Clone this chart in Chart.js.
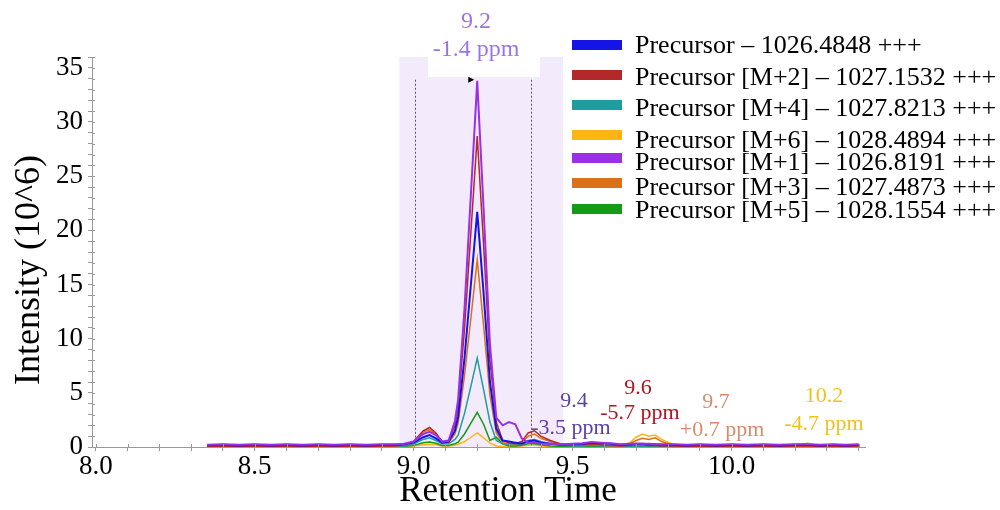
<!DOCTYPE html>
<html>
<head>
<meta charset="utf-8">
<script src="https://cdn.jsdelivr.net/npm/chart.js@4.4.0/dist/chart.umd.min.js"></script>
<style>
  html, body { margin: 0; padding: 0; background: #fff; }
  #wrap { width: 1000px; height: 510px; position: relative; }
</style>
</head>
<body>
<div id="wrap"><canvas id="chart"></canvas></div>
<script>
// retention time (min)
const retentionTimes = [
  8.35, 8.40, 8.45, 8.50, 8.55, 8.60, 8.65, 8.70, 8.75, 8.80, 8.85, 8.90,
  8.94, 8.97, 9.00, 9.03, 9.05, 9.07, 9.09, 9.11, 9.13, 9.14,
  9.16, 9.18, 9.20, 9.22, 9.24, 9.26, 9.28, 9.30, 9.32, 9.34,
  9.36, 9.38, 9.40, 9.43, 9.46, 9.50, 9.53, 9.56, 9.59, 9.62,
  9.65, 9.68, 9.70, 9.72, 9.74, 9.76, 9.78, 9.82, 9.86, 9.90,
  9.95, 10.00, 10.05, 10.10, 10.15, 10.20, 10.24, 10.28, 10.32, 10.36, 10.40
];

// intensity (10^6), one list per isotope trace
const precursorM0 = [
  0.15, 0.2, 0.15, 0.2, 0.15, 0.2, 0.15, 0.2, 0.15, 0.2, 0.15, 0.2,
  0.2, 0.25, 0.4, 0.9, 1.1, 0.8, 0.4, 0.5, 1.5, 2.8,
  8.2, 15.0, 21.7, 14.2, 6.0, 1.7, 0.6, 0.5, 0.4, 0.3,
  0.5, 0.6, 0.4, 0.3, 0.2, 0.25, 0.3, 0.4, 0.35, 0.3,
  0.2, 0.25, 0.3, 0.3, 0.25, 0.25, 0.2, 0.2, 0.15, 0.2,
  0.15, 0.2, 0.15, 0.2, 0.15, 0.2, 0.2, 0.15, 0.2, 0.15, 0.2
];
const precursorM2 = [
  0.05, 0.1, 0.05, 0.1, 0.05, 0.1, 0.05, 0.1, 0.05, 0.1, 0.05, 0.1,
  0.1, 0.2, 0.5, 1.5, 1.8, 1.3, 0.5, 0.5, 2.0, 3.7,
  10.9, 19.8, 28.7, 18.7, 8.0, 2.3, 0.6, 0.4, 0.3, 0.5,
  1.3, 1.5, 1.0, 0.6, 0.3, 0.2, 0.2, 0.25, 0.2, 0.15,
  0.1, 0.15, 0.2, 0.2, 0.15, 0.15, 0.1, 0.1, 0.05, 0.1,
  0.05, 0.1, 0.05, 0.1, 0.05, 0.1, 0.1, 0.05, 0.1, 0.05, 0.1
];
const precursorM4 = [
  0.05, 0.08, 0.05, 0.08, 0.05, 0.08, 0.05, 0.08, 0.05, 0.08, 0.05, 0.08,
  0.05, 0.1, 0.3, 0.7, 0.85, 0.6, 0.3, 0.3, 0.7, 1.1,
  3.1, 5.6, 8.2, 5.3, 2.3, 0.6, 0.3, 0.2, 0.2, 0.3,
  0.6, 0.7, 0.5, 0.3, 0.2, 0.1, 0.1, 0.15, 0.1, 0.1,
  0.05, 0.1, 0.1, 0.1, 0.1, 0.1, 0.05, 0.05, 0.05, 0.05,
  0.05, 0.05, 0.05, 0.05, 0.05, 0.05, 0.05, 0.05, 0.05, 0.05, 0.05
];
const precursorM6 = [
  0.03, 0.03, 0.03, 0.03, 0.03, 0.03, 0.03, 0.03, 0.03, 0.03, 0.03, 0.03,
  0.02, 0.05, 0.1, 0.2, 0.25, 0.2, 0.1, 0.1, 0.15, 0.25,
  0.5, 0.9, 1.3, 0.85, 0.35, 0.1, 0.05, 0.05, 0.05, 0.1,
  0.15, 0.2, 0.1, 0.05, 0.05, 0.05, 0.05, 0.1, 0.1, 0.1,
  0.15, 0.4, 0.9, 1.2, 1.0, 1.1, 0.7, 0.2, 0.1, 0.05,
  0.05, 0.05, 0.05, 0.05, 0.05, 0.15, 0.35, 0.15, 0.05, 0.05, 0.05
];
const precursorM1 = [
  0.2, 0.25, 0.2, 0.25, 0.2, 0.25, 0.2, 0.25, 0.2, 0.25, 0.2, 0.25,
  0.25, 0.3, 0.5, 1.2, 1.4, 1.1, 0.5, 0.6, 2.4, 4.4,
  12.8, 23.3, 33.8, 22.0, 9.5, 2.7, 2.0, 2.3, 2.1, 0.8,
  0.4, 0.4, 0.3, 0.3, 0.25, 0.3, 0.35, 0.45, 0.4, 0.35,
  0.25, 0.3, 0.3, 0.3, 0.3, 0.25, 0.25, 0.25, 0.2, 0.25,
  0.2, 0.25, 0.2, 0.25, 0.2, 0.25, 0.25, 0.2, 0.25, 0.2, 0.25
];
const precursorM3 = [
  0.05, 0.08, 0.05, 0.08, 0.05, 0.08, 0.05, 0.08, 0.05, 0.08, 0.05, 0.08,
  0.1, 0.2, 0.5, 1.4, 1.6, 1.2, 0.4, 0.4, 1.2, 2.2,
  6.6, 11.9, 17.3, 11.2, 4.8, 1.3, 0.4, 0.3, 0.3, 0.4,
  1.0, 1.2, 0.8, 0.5, 0.3, 0.2, 0.15, 0.2, 0.15, 0.1,
  0.1, 0.3, 0.6, 0.8, 0.7, 0.85, 0.5, 0.15, 0.1, 0.05,
  0.05, 0.08, 0.05, 0.08, 0.05, 0.08, 0.1, 0.05, 0.08, 0.05, 0.05
];
const precursorM5 = [
  0.03, 0.03, 0.03, 0.03, 0.03, 0.03, 0.03, 0.03, 0.03, 0.03, 0.03, 0.03,
  0.05, 0.05, 0.15, 0.4, 0.45, 0.35, 0.15, 0.15, 0.3, 0.45,
  1.2, 2.2, 3.2, 2.1, 0.6, 0.9, 0.3, 0.1, 0.1, 0.15,
  0.3, 0.3, 0.2, 0.1, 0.05, 0.05, 0.05, 0.05, 0.05, 0.05,
  0.05, 0.05, 0.05, 0.05, 0.05, 0.05, 0.05, 0.05, 0.05, 0.05,
  0.05, 0.05, 0.05, 0.05, 0.05, 0.05, 0.05, 0.05, 0.05, 0.05, 0.05
];

const traceLabels = [
  "Precursor \u2013 1026.4848 +++",
  "Precursor [M+2] \u2013 1027.1532 +++",
  "Precursor [M+4] \u2013 1027.8213 +++",
  "Precursor [M+6] \u2013 1028.4894 +++",
  "Precursor [M+1] \u2013 1026.8191 +++",
  "Precursor [M+3] \u2013 1027.4873 +++",
  "Precursor [M+5] \u2013 1028.1554 +++",
];
const traceValues = [precursorM0, precursorM2, precursorM4, precursorM6, precursorM1, precursorM3, precursorM5];
const traceColors = ["#1414e6", "#b32828", "#1f9c9c", "#ffb414", "#9a30e6", "#dc7016", "#149a14"];
const traceWidths = [2, 1.5, 1.5, 1.5, 2, 1.5, 1.5];
const traceOrder = [1, 2, 4, 6, 0, 3, 5];

// peak picking annotations
const peakRt = ["9.2", "9.4", "9.6", "9.7", "10.2"];
const peakPpm = ["-1.4 ppm", "-3.5 ppm", "-5.7 ppm", "+0.7 ppm", "-4.7 ppm"];
const peakColors = ["#9d74e6", "#5b3fa8", "#b8121f", "#d98b6b", "#eec21c"];

// integration window and boundaries
const windowStart = 8.955;
const windowEnd = 9.47;
const boundaries = [9.005, 9.37];
const boundaryTop = 33.9;
const apexRt = 9.2;

const SERIF = '"Liberation Serif", "Times New Roman", serif';
Chart.defaults.font.family = SERIF;

const overlay = {
  id: "overlay",
  beforeDraw(chart) {
    const { ctx, chartArea: a, scales: { x, y } } = chart;
    ctx.save();
    ctx.fillStyle = "rgb(243,234,252)";
    const x0 = x.getPixelForValue(windowStart);
    const x1 = x.getPixelForValue(windowEnd);
    ctx.fillRect(x0, a.top, x1 - x0, a.bottom - a.top);
    // white backing behind the apex label
    ctx.fillStyle = "#fff";
    ctx.fillRect(428, a.top, 112, 20);
    ctx.strokeStyle = "#555";
    ctx.lineWidth = 1;
    ctx.setLineDash([2, 2]);
    boundaries.forEach((b) => {
      const px = Math.round(x.getPixelForValue(b)) + 0.5;
      ctx.beginPath();
      ctx.moveTo(px, y.getPixelForValue(boundaryTop));
      ctx.lineTo(px, a.bottom);
      ctx.stroke();
    });
    ctx.restore();
  },
  afterDraw(chart) {
    const { ctx, chartArea: a, scales: { x, y } } = chart;
    ctx.save();
    // tick marks poke into the plot too
    ctx.strokeStyle = "#999";
    ctx.lineWidth = 1;
    ctx.beginPath();
    xTickValues.forEach((v) => {
      const px = Math.round(x.getPixelForValue(v)) + 0.5;
      ctx.moveTo(px, a.bottom);
      ctx.lineTo(px, a.bottom - 3);
    });
    yTickValues.forEach((v) => {
      const py = Math.round(y.getPixelForValue(v)) + 0.5;
      ctx.moveTo(a.left, py);
      ctx.lineTo(a.left + 3, py);
    });
    ctx.stroke();

    // apex marker
    const ax = x.getPixelForValue(apexRt) - 3;
    const ay = y.getPixelForValue(boundaryTop);
    ctx.fillStyle = "#000";
    ctx.beginPath();
    ctx.moveTo(ax - 6, ay - 3);
    ctx.lineTo(ax, ay);
    ctx.lineTo(ax - 6, ay + 3);
    ctx.closePath();
    ctx.fill();

    // peak labels
    const spots = [[476, 22, 476, 50, 24], [574, 401, 571, 428, 22], [638, 388, 640, 413, 22], [716, 402, 722, 430, 22], [824, 396, 824, 424, 22]];
    ctx.textAlign = "center";
    ctx.textBaseline = "middle";
    peakRt.forEach((rt, i) => {
      const s = spots[i];
      ctx.fillStyle = peakColors[i];
      ctx.font = s[4] + "px " + SERIF;
      ctx.fillText(rt, s[0], s[1]);
      ctx.fillText(peakPpm[i], s[2], s[3]);
    });

    // legend
    const swatchY = [45, 75, 105, 135, 158, 183, 209];
    const textY = [46, 78, 109, 141, 163, 188, 211];
    ctx.textAlign = "left";
    ctx.font = "26px " + SERIF;
    traceLabels.forEach((lab, i) => {
      ctx.fillStyle = traceColors[i];
      ctx.fillRect(572, swatchY[i] - 5, 50, 10);
      ctx.fillStyle = "#000";
      ctx.fillText(lab, 635, textY[i]);
    });

    // axis titles
    ctx.textAlign = "center";
    ctx.font = "35px " + SERIF;
    ctx.fillText("Retention Time", 508, 492);
    ctx.font = "36px " + SERIF;
    ctx.translate(30, 270);
    ctx.rotate(-Math.PI / 2);
    ctx.fillText("Intensity (10^6)", 0, 0);
    ctx.restore();
  },
};

const xTickValues = [];
for (let t = 80; t <= 104; t++) xTickValues.push(t / 10);
const yTickValues = [];
for (let t = 0; t <= 36; t++) yTickValues.push(t);

new Chart(document.getElementById("chart"), {
  type: "line",
  data: {
    datasets: traceLabels.map((label, i) => ({
      label,
      data: traceValues[i].map((v, j) => ({ x: retentionTimes[j], y: v })),
      borderColor: traceColors[i],
      borderWidth: traceWidths[i],
      order: traceOrder[i],
      pointRadius: 0,
      tension: 0,
      fill: false,
    })),
  },
  options: {
    responsive: true,
    maintainAspectRatio: false,
    animation: false,
    devicePixelRatio: 1,
    layout: { padding: { top: 57, right: 135, left: 0, bottom: 0 } },
    plugins: { legend: { display: false }, tooltip: { enabled: false } },
    scales: {
      x: {
        type: "linear",
        min: 7.988,
        max: 10.42,
        afterBuildTicks: (s) => { s.ticks = xTickValues.map((v) => ({ value: v })); },
        afterFit: (s) => { s.height = 63; },
        ticks: {
          autoSkip: false,
          maxRotation: 0,
          padding: 0,
          color: "#000",
          font: { size: 27 },
          callback: (v) => (Math.abs(v * 2 - Math.round(v * 2)) < 1e-6 ? Number(v).toFixed(1) : ""),
        },
        grid: { drawOnChartArea: false, tickLength: 4, color: "#999" },
        border: { color: "#999" },
      },
      y: {
        min: 0,
        max: 36,
        afterBuildTicks: (s) => { s.ticks = yTickValues.map((v) => ({ value: v })); },
        afterFit: (s) => { s.width = 92; },
        ticks: {
          autoSkip: false,
          padding: 5,
          color: "#000",
          font: { size: 27 },
          callback: (v) => (v % 5 === 0 ? String(v) : ""),
        },
        grid: { drawOnChartArea: false, tickLength: 4, color: "#999" },
        border: { color: "#999" },
      },
    },
  },
  plugins: [overlay],
});
</script>
</body>
</html>
